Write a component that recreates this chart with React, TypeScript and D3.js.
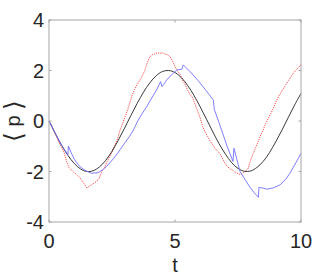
import { useEffect, useRef } from 'react';
import * as d3 from 'd3';

// exact mean (black), sampled every 0.25
const exactT = d3.range(0, 10.001, 0.25);
const exactP = [
  0, -0.49, -0.96, -1.36, -1.68, -1.9, -2.0, -1.97, -1.82, -1.56, -1.2,
  -0.76, -0.28, 0.22, 0.7, 1.14, 1.51, 1.79, 1.96, 2.0, 1.92, 1.72, 1.41,
  1.02, 0.56, 0.07, -0.43, -0.9, -1.31, -1.65, -1.88, -1.99, -1.98, -1.84,
  -1.6, -1.25, -0.82, -0.35, 0.15, 0.64, 1.09,
];

// noisy sample mean (red dotted), every 0.1
const sampleT = d3.range(0, 10.001, 0.1);
const sampleP = [
  0, -0.15, -0.42, -0.62, -0.85, -1.05, -1.25, -1.62, -1.85, -1.95,
  -2.05, -2.12, -2.22, -2.35, -2.5, -2.65, -2.58, -2.52, -2.45, -2.38,
  -2.25, -1.98, -1.85, -1.62, -1.42, -1.22, -0.98, -0.78, -0.42, -0.15,
  0.12, 0.38, 0.7, 1.02, 1.25, 1.45, 1.6, 1.78, 2.0, 2.3,
  2.55, 2.62, 2.66, 2.7, 2.68, 2.7, 2.66, 2.62, 2.55, 2.38,
  2.15, 1.98, 1.85, 1.62, 1.45, 1.22, 1.05, 0.92, 0.65, 0.38,
  0.12, -0.22, -0.45, -0.62, -0.8, -0.95, -1.1, -1.2, -1.32, -1.52,
  -1.7, -1.82, -1.9, -1.95, -2.05, -2.08, -2.12, -2.05, -2.0, -1.88,
  -1.55, -1.3, -1.05, -0.82, -0.55, -0.35, -0.1, 0.1, 0.3, 0.5,
  0.75, 0.95, 1.12, 1.28, 1.45, 1.6, 1.75, 1.9, 2.02, 2.12,
  2.25,
];

// approximation (blue), with its jumps
const approxT = [
  0, 0.25, 0.5, 0.75, 0.77, 0.9, 1.02, 1.2, 1.42, 1.68, 1.94, 2.15, 2.34,
  2.55, 2.74, 3.0, 3.2, 3.35, 3.52, 3.7, 3.88, 4.1, 4.27, 4.43, 4.48, 4.55,
  4.67, 4.85, 5.07, 5.27, 5.33, 5.6, 5.9, 6.2, 6.52, 6.56, 6.85, 7.05, 7.3,
  7.34, 7.45, 7.58, 7.8, 7.98, 8.15, 8.31, 8.33, 8.5, 8.64, 8.9, 9.17, 9.4,
  9.56, 9.8, 10,
];
const approxP = [
  0, -0.49, -0.96, -1.33, -0.99, -1.3, -1.54, -1.78, -1.95, -2.07, -2.05,
  -1.92, -1.74, -1.5, -1.25, -0.88, -0.6, -0.36, 0, 0.3, 0.57, 0.95, 1.23,
  1.56, 1.36, 1.45, 1.62, 1.82, 2.02, 2.05, 2.22, 1.95, 1.62, 1.25, 0.83,
  0.46, -0.36, -0.95, -1.6, -1.08, -1.5, -2.0, -2.35, -2.63, -2.85, -3.02,
  -2.63, -2.66, -2.7, -2.65, -2.53, -2.3, -2.07, -1.65, -1.28,
];

const xTicks = [0, 5, 10];
const yTicks = [-4, -2, 0, 2, 4];

const App = () => {
  const ref = useRef(null);

  useEffect(() => {
    const W = 332, H = 277;
    const margin = { top: 20, right: 31, bottom: 55, left: 49 };
    const x0 = margin.left, x1 = W - margin.right;
    const y0 = margin.top, y1 = H - margin.bottom;

    d3.select(ref.current).selectAll('svg').remove();
    const svg = d3.select(ref.current)
      .append('svg')
      .attr('width', W)
      .attr('height', H)
      .style('display', 'block')
      .style('font-family', '"Liberation Sans", Arial, sans-serif');

    svg.append('rect').attr('width', W).attr('height', H).attr('fill', '#fff');

    const x = d3.scaleLinear().domain([0, 10]).range([x0, x1]);
    const y = d3.scaleLinear().domain([-4, 4]).range([y1, y0]);

    const axisColor = '#a6a6a6';
    const textColor = '#262626';

    const line = d3.line<[number, number]>()
      .x(d => x(d[0]))
      .y(d => y(d[1]));

    svg.append('path')
      .datum(sampleT.map((t, i) => [t, sampleP[i]] as [number, number]))
      .attr('fill', 'none')
      .attr('stroke', '#ff2020')
      .attr('stroke-width', 0.8)
      .attr('stroke-dasharray', '1.2 1')
      .attr('d', line);

    svg.append('path')
      .datum(exactT.map((t, i) => [t, exactP[i]] as [number, number]))
      .attr('fill', 'none')
      .attr('stroke', '#222')
      .attr('stroke-width', 0.9)
      .attr('d', line.curve(d3.curveCatmullRom));

    svg.append('path')
      .datum(approxT.map((t, i) => [t, approxP[i]] as [number, number]))
      .attr('fill', 'none')
      .attr('stroke', '#6f6fff')
      .attr('stroke-width', 0.9)
      .attr('d', line.curve(d3.curveLinear));

    // box
    svg.append('rect')
      .attr('x', x0).attr('y', y0)
      .attr('width', x1 - x0).attr('height', y1 - y0)
      .attr('fill', 'none')
      .attr('stroke', axisColor)
      .attr('stroke-width', 1);

    const tl = 2.5;
    xTicks.forEach(t => {
      svg.append('line').attr('x1', x(t)).attr('x2', x(t))
        .attr('y1', y1).attr('y2', y1 - tl).attr('stroke', axisColor);
      svg.append('line').attr('x1', x(t)).attr('x2', x(t))
        .attr('y1', y0).attr('y2', y0 + tl).attr('stroke', axisColor);
      svg.append('text')
        .attr('x', x(t)).attr('y', y1 + 26)
        .attr('text-anchor', 'middle')
        .attr('font-size', 20)
        .attr('fill', textColor)
        .text(t);
    });
    yTicks.forEach(t => {
      svg.append('line').attr('x1', x0).attr('x2', x0 + tl)
        .attr('y1', y(t)).attr('y2', y(t)).attr('stroke', axisColor);
      svg.append('line').attr('x1', x1).attr('x2', x1 - tl)
        .attr('y1', y(t)).attr('y2', y(t)).attr('stroke', axisColor);
      svg.append('text')
        .attr('x', x0 - 5).attr('y', y(t) + 7)
        .attr('text-anchor', 'end')
        .attr('font-size', 20)
        .attr('fill', textColor)
        .text(t);
    });

    svg.append('text')
      .attr('x', (x0 + x1) / 2).attr('y', 272)
      .attr('text-anchor', 'middle')
      .attr('font-size', 20)
      .attr('fill', textColor)
      .text('t');

    const yl = svg.append('text')
      .attr('transform', `translate(20,${y(0)}) rotate(-90)`)
      .attr('text-anchor', 'middle')
      .attr('font-size', 20)
      .attr('fill', textColor);
    yl.append('tspan').attr('font-size', 25).attr('dy', 2).text('\u27E8');
    yl.append('tspan').attr('dy', -2).text(' p ');
    yl.append('tspan').attr('font-size', 25).attr('dy', 2).text('\u27E9');
  }, []);

  return (
    <div ref={ref} style={{ position: 'absolute', left: 0, top: 0 }} />
  );
};

export default App;
